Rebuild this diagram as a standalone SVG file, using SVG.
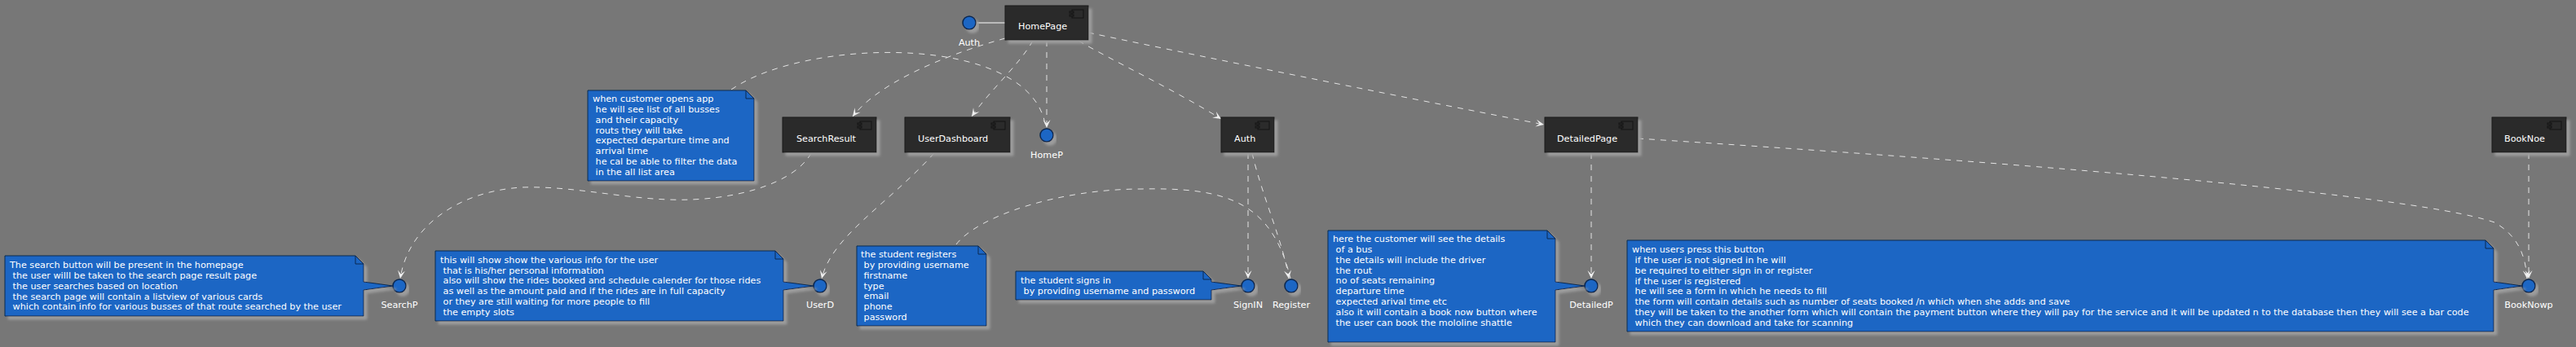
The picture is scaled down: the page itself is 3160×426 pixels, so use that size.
<svg xmlns="http://www.w3.org/2000/svg" width="3160" height="426" viewBox="0 0 3160 426">
<defs>
<style>
text{font-family:"DejaVu Sans","Liberation Sans",sans-serif;font-size:11.2px;fill:#ffffff}
.box{fill:#2b2b2b;stroke:#1a1a1a;stroke-width:1}
.icon{fill:#2b2b2b;stroke:#151515;stroke-width:1}
.note{fill:#1b66c4;stroke:#0a2850;stroke-width:1}
.fold{fill:none;stroke:#0a2850;stroke-width:1}
.port{fill:#1b66c4;stroke:#0a2850;stroke-width:1.5}
.lbl{text-anchor:middle}
.dash{fill:none;stroke:#e4e4e4;stroke-width:1;stroke-dasharray:7,7}
.arr{marker-end:url(#arrow)}
.solid{fill:none;stroke:#ffffff;stroke-width:1}
</style>
<filter id="sh" x="-10%" y="-20%" width="130%" height="160%">
<feDropShadow dx="4" dy="4" stdDeviation="1.5" flood-color="#9c9c9c" flood-opacity="1"/>
</filter>
<marker id="arrow" viewBox="-11 -6 12 12" refX="0" refY="0" markerWidth="12" markerHeight="12" markerUnits="userSpaceOnUse" orient="auto">
<path d="M0,0 L-10,-4.5 L-5.5,0 L-10,4.5 Z" fill="#f0f0f0" stroke="none"/>
</marker>
</defs>
<rect x="0" y="0" width="3160" height="426" fill="#777777"/>

<g id="connectors">
<line class="solid" x1="1197" y1="28" x2="1233" y2="28"/>
<path class="dash arr" d="M1233,47 C1150,70 1075,105 1046,143"/>
<path class="dash arr" d="M1267,50 C1250,80 1215,110 1192,143"/>
<path class="dash arr" d="M1284,50 V157"/>
<path class="dash arr" d="M1323,50 C1360,72 1440,110 1498,146"/>
<path class="dash arr" d="M1335,40 C1500,75 1750,125 1894,153"/>
<path class="dash" d="M897,110 C990,45 1270,40 1283,158"/>
<path class="dash arr" d="M995,188 C975,225 900,248 820,245 C760,243 700,228 640,230 C560,235 500,280 491,342"/>
<path class="dash arr" d="M1146,188 C1090,250 1020,290 1008,342"/>
<path class="dash arr" d="M1531,188 V342"/>
<path class="dash arr" d="M1536,188 C1548,240 1575,300 1581,342"/>
<path class="dash" d="M1173,300 C1200,265 1300,232 1400,232 C1500,230 1560,245 1583,342"/>
<path class="dash arr" d="M1952,188 V342"/>
<path class="dash arr" d="M2009,170 C2400,195 2950,235 3060,273 C3090,290 3098,315 3100,342"/>
<path class="dash arr" d="M3102,188 V342"/>
</g>

<g id="HomePage">
<rect class="box" x="1233" y="7" width="102" height="42" filter="url(#sh)"/>
<rect class="icon" x="1315" y="12" width="14" height="10"/>
<rect class="icon" x="1312" y="14" width="5" height="2"/>
<rect class="icon" x="1312" y="18" width="5" height="2"/>
<text x="1249" y="36">HomePage</text>
</g>
<g id="AuthPort">
<circle class="port" cx="1189" cy="28" r="8" filter="url(#sh)"/>
<text class="lbl" x="1189" y="56">Auth</text>
</g>
<g id="SearchResult">
<rect class="box" x="960" y="144" width="115" height="43" filter="url(#sh)"/>
<rect class="icon" x="1055" y="149" width="14" height="10"/>
<rect class="icon" x="1052" y="151" width="5" height="2"/>
<rect class="icon" x="1052" y="155" width="5" height="2"/>
<text x="977" y="173.5">SearchResult</text>
</g>
<g id="UserDashboard">
<rect class="box" x="1110" y="144" width="129" height="43" filter="url(#sh)"/>
<rect class="icon" x="1219" y="149" width="14" height="10"/>
<rect class="icon" x="1216" y="151" width="5" height="2"/>
<rect class="icon" x="1216" y="155" width="5" height="2"/>
<text x="1126" y="173.5">UserDashboard</text>
</g>
<g id="Auth">
<rect class="box" x="1498" y="144" width="65" height="43" filter="url(#sh)"/>
<rect class="icon" x="1543" y="149" width="14" height="10"/>
<rect class="icon" x="1540" y="151" width="5" height="2"/>
<rect class="icon" x="1540" y="155" width="5" height="2"/>
<text x="1514" y="173.5">Auth</text>
</g>
<g id="DetailedPage">
<rect class="box" x="1895" y="144" width="114" height="43" filter="url(#sh)"/>
<rect class="icon" x="1989" y="149" width="14" height="10"/>
<rect class="icon" x="1986" y="151" width="5" height="2"/>
<rect class="icon" x="1986" y="155" width="5" height="2"/>
<text x="1910" y="173.5">DetailedPage</text>
</g>
<g id="BookNoe">
<rect class="box" x="3057" y="144" width="91" height="43" filter="url(#sh)"/>
<rect class="icon" x="3128" y="149" width="14" height="10"/>
<rect class="icon" x="3125" y="151" width="5" height="2"/>
<rect class="icon" x="3125" y="155" width="5" height="2"/>
<text x="3072" y="173.5">BookNoe</text>
</g>

<g id="HomeP">
<circle class="port" cx="1284" cy="166" r="8" filter="url(#sh)"/>
<text class="lbl" x="1284" y="193.5">HomeP</text>
</g>
<g id="SearchP">
<circle class="port" cx="490" cy="351" r="8" filter="url(#sh)"/>
<text class="lbl" x="490" y="378">SearchP</text>
</g>
<g id="UserD">
<circle class="port" cx="1006" cy="351" r="8" filter="url(#sh)"/>
<text class="lbl" x="1006" y="378">UserD</text>
</g>
<g id="SignIN">
<circle class="port" cx="1531" cy="351" r="8" filter="url(#sh)"/>
<text class="lbl" x="1531" y="378">SignIN</text>
</g>
<g id="Register">
<circle class="port" cx="1584" cy="351" r="8" filter="url(#sh)"/>
<text class="lbl" x="1584" y="378">Register</text>
</g>
<g id="DetailedP">
<circle class="port" cx="1952" cy="351" r="8" filter="url(#sh)"/>
<text class="lbl" x="1952" y="378">DetailedP</text>
</g>
<g id="BookNowp">
<circle class="port" cx="3102" cy="351" r="8" filter="url(#sh)"/>
<text class="lbl" x="3102" y="378">BookNowp</text>
</g>

<g id="note-searchp">
<path class="note" filter="url(#sh)" d="M6,314 H436 L446,324 V346 L482,351 L446,356 V388 H6 Z"/>
<path class="fold" d="M436,314 V324 H446"/>
<text xml:space="preserve" x="12" y="329">The search button will be present in the homepage</text>
<text xml:space="preserve" x="12" y="342"> the user willl be taken to the search page result page</text>
<text xml:space="preserve" x="12" y="355"> the user searches based on location</text>
<text xml:space="preserve" x="12" y="368"> the search page will contain a listview of various cards</text>
<text xml:space="preserve" x="12" y="380"> which contain info for various busses of that route searched by the user</text>
</g>

<g id="note-homep">
<path class="note" filter="url(#sh)" d="M721,111 H915 L925,121 V222 H721 Z"/>
<path class="fold" d="M915,111 V121 H925"/>
<text xml:space="preserve" x="727" y="125">when customer opens app</text>
<text xml:space="preserve" x="727" y="138"> he will see list of all busses</text>
<text xml:space="preserve" x="727" y="151"> and their capacity</text>
<text xml:space="preserve" x="727" y="164"> routs they will take</text>
<text xml:space="preserve" x="727" y="176"> expected departure time and</text>
<text xml:space="preserve" x="727" y="189"> arrival time</text>
<text xml:space="preserve" x="727" y="202"> he cal be able to filter the data</text>
<text xml:space="preserve" x="727" y="215"> in the all list area</text>
</g>

<g id="note-userd">
<path class="note" filter="url(#sh)" d="M534,308 H951 L961,318 V346 L998,351 L961,356 V394 H534 Z"/>
<path class="fold" d="M951,308 V318 H961"/>
<text xml:space="preserve" x="540" y="323">this will show show the various info for the user</text>
<text xml:space="preserve" x="540" y="336"> that is his/her personal information</text>
<text xml:space="preserve" x="540" y="348"> also will show the rides booked and schedule calender for those rides</text>
<text xml:space="preserve" x="540" y="361"> as well as the amount paid and if the rides are in full capacity</text>
<text xml:space="preserve" x="540" y="374"> or they are still waiting for more people to fill</text>
<text xml:space="preserve" x="540" y="387"> the empty slots</text>
</g>

<g id="note-register">
<path class="note" filter="url(#sh)" d="M1051,302 H1200 L1210,312 V400 H1051 Z"/>
<path class="fold" d="M1200,302 V312 H1210"/>
<text xml:space="preserve" x="1056" y="316">the student registers</text>
<text xml:space="preserve" x="1056" y="329"> by providing username</text>
<text xml:space="preserve" x="1056" y="342"> firstname</text>
<text xml:space="preserve" x="1056" y="355"> type</text>
<text xml:space="preserve" x="1056" y="367"> email</text>
<text xml:space="preserve" x="1056" y="380"> phone</text>
<text xml:space="preserve" x="1056" y="393"> password</text>
</g>

<g id="note-signin">
<path class="note" filter="url(#sh)" d="M1246,333 H1476 L1486,343 V346 L1523,351 L1486,356 V368 H1246 Z"/>
<path class="fold" d="M1476,333 V343 H1486"/>
<text xml:space="preserve" x="1252" y="348">the student signs in</text>
<text xml:space="preserve" x="1252" y="361"> by providing username and password</text>
</g>

<g id="note-detailedp">
<path class="note" filter="url(#sh)" d="M1629,283 H1898 L1908,293 V346 L1944,351 L1908,356 V420 H1629 Z"/>
<path class="fold" d="M1898,283 V293 H1908"/>
<text xml:space="preserve" x="1635" y="297">here the customer will see the details</text>
<text xml:space="preserve" x="1635" y="310"> of a bus</text>
<text xml:space="preserve" x="1635" y="323"> the details will include the driver</text>
<text xml:space="preserve" x="1635" y="336"> the rout</text>
<text xml:space="preserve" x="1635" y="348"> no of seats remaining</text>
<text xml:space="preserve" x="1635" y="361"> departure time</text>
<text xml:space="preserve" x="1635" y="374"> expected arival time etc</text>
<text xml:space="preserve" x="1635" y="387"> also it will contain a book now button where</text>
<text xml:space="preserve" x="1635" y="400"> the user can book the mololine shattle</text>
</g>

<g id="note-booknowp">
<path class="note" filter="url(#sh)" d="M1996,295 H3049 L3059,305 V346 L3094,351 L3059,356 V407 H1996 Z"/>
<path class="fold" d="M3049,295 V305 H3059"/>
<text xml:space="preserve" x="2002" y="310">when users press this button</text>
<text xml:space="preserve" x="2002" y="323"> if the user is not signed in he will</text>
<text xml:space="preserve" x="2002" y="336"> be required to either sign in or register</text>
<text xml:space="preserve" x="2002" y="349"> if the user is registered</text>
<text xml:space="preserve" x="2002" y="361"> he will see a form in which he needs to fill</text>
<text xml:space="preserve" x="2002" y="374"> the form will contain details such as number of seats booked /n which when she adds and save</text>
<text xml:space="preserve" x="2002" y="387"> they will be taken to the another form which will contain the payment button where they will pay for the service and it will be updated n to the database then they will see a bar code</text>
<text xml:space="preserve" x="2002" y="400"> which they can download and take for scanning</text>
</g>
</svg>
